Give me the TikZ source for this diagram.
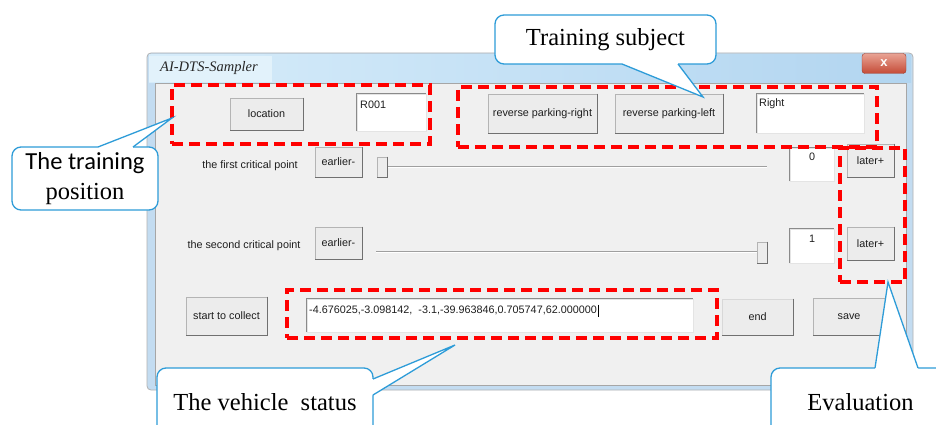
\documentclass[tikz,border=0pt]{standalone}
\usepackage{fontspec}
\setmainfont{Liberation Serif}
\newfontfamily\guifont{Liberation Sans}
\newfontfamily\califont{Carlito}
\usetikzlibrary{calc}
\definecolor{panelgray}{HTML}{F0F0F0}
\definecolor{btnface}{HTML}{ECECEC}
\definecolor{btnedge}{HTML}{B4B4B4}
\definecolor{btndark}{HTML}{707070}
\definecolor{sunkdark}{HTML}{8A8A8A}
\definecolor{sunklight}{HTML}{E4E4E4}
\definecolor{framebl}{HTML}{C3DCF1}
\definecolor{titlel}{HTML}{D6ECFA}
\definecolor{titler}{HTML}{B2D5F0}
\definecolor{callblue}{HTML}{2E9CD8}
\definecolor{redbox}{HTML}{FF0000}
\definecolor{guitext}{HTML}{1E1E1E}
\definecolor{closetop}{HTML}{E9A394}
\definecolor{closebot}{HTML}{C44A36}
\tikzset{
  gui/.style={font=\guifont\fontsize{10.8}{12}\selectfont, text=guitext},
  btn/.style={gui, draw=btnedge, fill=btnface, line width=0.8pt, inner sep=0pt},
  btnshade/.style={draw=btndark, line width=1.6pt},
  tbox/.style={draw=sunklight, fill=white, line width=0.8pt, inner sep=0pt},
  tboxshade/.style={draw=sunkdark, line width=1.4pt},
  thumb/.style={draw=btnedge, fill=btnface, line width=0.6pt, inner sep=0pt, minimum width=10pt},
  track/.style={draw=gray!75, line width=1pt},
  redgrp/.style={draw=redbox, line width=4pt, dash pattern=on 11pt off 6pt, inner sep=0pt},
  callout/.style={draw=callblue, fill=white, line width=1.3pt, rounded corners=9pt, inner sep=0pt, font=\fontsize{24.5}{30}\selectfont, align=center},
  pointer/.style={draw=callblue, line width=1.3pt, line join=miter},
  lbl/.style={gui, inner sep=0pt},
}
\begin{document}
\begin{tikzpicture}[x=1pt,y=-1pt]
\useasboundingbox (0,0) rectangle (936,425);
\clip (0,0) rectangle (936,425);
\fill[white] (0,0) rectangle (936,425);

% window frame
\draw[draw=gray!60, fill=framebl, rounded corners=4pt, line width=0.8pt] (147,53) rectangle (913,390);
\shade[left color=titlel, right color=titler] (149,55) rectangle (911,83);
\fill[titlel!70!white] (149,56) rectangle (272,82);
\node[inner sep=0pt, anchor=west, font=\itshape\fontsize{14.5}{16}\selectfont, text=black!85] (title) at (160,68) {AI-DTS-Sampler};
\node[draw=closebot!80!black, top color=closetop, bottom color=closebot, rounded corners=3pt, minimum width=44pt, minimum height=20pt, inner sep=0pt, text=white, font=\guifont\bfseries\fontsize{13}{13}\selectfont] (close) at (884,63.5) {x};
\draw[draw=gray!70, fill=panelgray, line width=0.8pt] (155,83) rectangle (906,385);

% row 1
\node[btn, minimum width=73pt, minimum height=32pt] (loc) at (266.5,114) {location};
\node[tbox, minimum width=69pt, minimum height=37pt] (r001) at (391.5,112.5) {};
\node[lbl, anchor=west] (r001t) at (360,105) {R001};
\node[btn, minimum width=109pt, minimum height=39pt] (rpr) at (542.5,113.5) {reverse parking-right};
\node[btn, minimum width=108pt, minimum height=39pt] (rpl) at (669,113.5) {reverse parking-left};
\node[tbox, minimum width=107pt, minimum height=39pt] (rightb) at (810.5,113.5) {};
\node[lbl, anchor=west] (rightt) at (759,104) {Right};

% row 2
\node[lbl] (crit1) at (250,166) {the first critical point};
\node[btn, minimum width=47pt, minimum height=30pt] (earl1) at (338.5,162) {earlier-};
\node[thumb, minimum height=20pt] (th1) at (382,167) {};
\coordinate (tr1end) at (767,166);
\draw[track] (th1.east |- 0,166) -- (tr1end);
\draw[white, line width=0.8pt] (th1.east |- 0,167.3) -- (tr1end |- 0,167.3);
\node[tbox, minimum width=44pt, minimum height=33pt] (zero) at (812,164.5) {};
\node[lbl] (zerot) at (812,157) {0};
\node[btn, minimum width=47pt, minimum height=33pt] (later1) at (870.5,160.5) {later+};

% row 3
\node[lbl] (crit2) at (244,246) {the second critical point};
\node[btn, minimum width=47pt, minimum height=32pt] (earl2) at (338.5,243) {earlier-};
\node[thumb, minimum height=21pt] (th2) at (762,252.5) {};
\coordinate (tr2start) at (376,251);
\draw[track] (tr2start) -- (th2.west |- 0,251);
\draw[white, line width=0.8pt] (tr2start |- 0,252.3) -- (th2.west |- 0,252.3);
\node[tbox, minimum width=44pt, minimum height=34pt] (one) at (812,246) {};
\node[lbl] (onet) at (812,239) {1};
\node[btn, minimum width=47pt, minimum height=33pt] (later2) at (870.5,243.5) {later+};

% row 4
\node[btn, minimum width=81pt, minimum height=38pt] (collect) at (226.5,316) {start to collect};
\node[tbox, minimum width=386pt, minimum height=33pt] (status) at (500,315.5) {};
\node[lbl, anchor=west] (statust) at (309,310.5) {-4.676025,-3.098142,\ \ -3.1,-39.963846,0.705747,62.000000};
\draw[black, line width=0.8pt] (statust.east) ++(1,-6) -- ++(0,12);
\node[btn, draw=panelgray!90!black, minimum width=71pt, minimum height=36pt] (endb) at (757.5,317) {end};
\node[btn, minimum width=72pt, minimum height=37pt] (save) at (849,316.5) {save};

% button and box shading
\foreach \n in {loc,rpr,rpl,earl1,later1,earl2,later2,collect,endb,save,th1,th2}
  \draw[btnshade] (\n.north east) -- (\n.south east) -- (\n.south west);
\foreach \n in {r001,rightb,zero,one,status}
  \draw[tboxshade] (\n.south west) -- (\n.north west) -- (\n.north east);

% red dashed groups
\node[redgrp, minimum width=258pt, minimum height=58pt] (grploc) at (301,114.5) {};
\node[redgrp, minimum width=419pt, minimum height=60pt] (grpsub) at (667.5,117) {};
\node[redgrp, minimum width=65pt, minimum height=134pt] (grpeval) at (872.5,215) {};
\node[redgrp, minimum width=430pt, minimum height=48pt] (grpstat) at (502,314) {};

% callout: Training subject
\node[callout, minimum width=221pt, minimum height=49pt] (cts) at (605.5,39.5) {Training subject};
\coordinate (tsA) at (622,64);
\coordinate (tsB) at (678,64);
\coordinate (tsTip) at (703,97);
\fill[white] ($(tsA)+(0,-2)$) -- (tsA) -- (tsTip) -- (tsB) -- ($(tsB)+(0,-2)$) -- cycle;
\draw[pointer] (tsA) -- (tsTip) -- (tsB);

% callout: The training position
\node[callout, minimum width=146pt, minimum height=63pt] (ctp) at (85,178.5) {{\califont The training}\\position};
\coordinate (tpA) at (98,147);
\coordinate (tpB) at (133,147);
\coordinate (tpTip) at (172,118);
\fill[white] ($(tpA)+(0,2)$) -- (tpA) -- (tpTip) -- (tpB) -- ($(tpB)+(0,2)$) -- cycle;
\draw[pointer] (tpA) -- (tpTip) -- (tpB);

% callout: The vehicle status
\node[callout, minimum width=216pt, minimum height=68pt] (cvs) at (265,402) {The vehicle~~status};
\coordinate (vsA) at (373,379);
\coordinate (vsB) at (373,395);
\coordinate (vsTip) at (455,345);
\fill[white] ($(vsA)+(-2,0)$) -- (vsA) -- (vsTip) -- (vsB) -- ($(vsB)+(-2,0)$) -- cycle;
\draw[pointer] (vsA) -- (vsTip) -- (vsB);

% callout: Evaluation
\node[callout, minimum width=180pt, minimum height=68pt, text width=170pt] (cev) at (861,402) {\hspace*{-1pt}Evaluation};
\coordinate (evA) at (875,368);
\coordinate (evB) at (918,368);
\coordinate (evTip) at (888,282);
\fill[white] ($(evA)+(0,2)$) -- (evA) -- (evTip) -- (evB) -- ($(evB)+(0,2)$) -- cycle;
\draw[pointer] (evA) -- (evTip) -- (evB);
\end{tikzpicture}
\end{document}
